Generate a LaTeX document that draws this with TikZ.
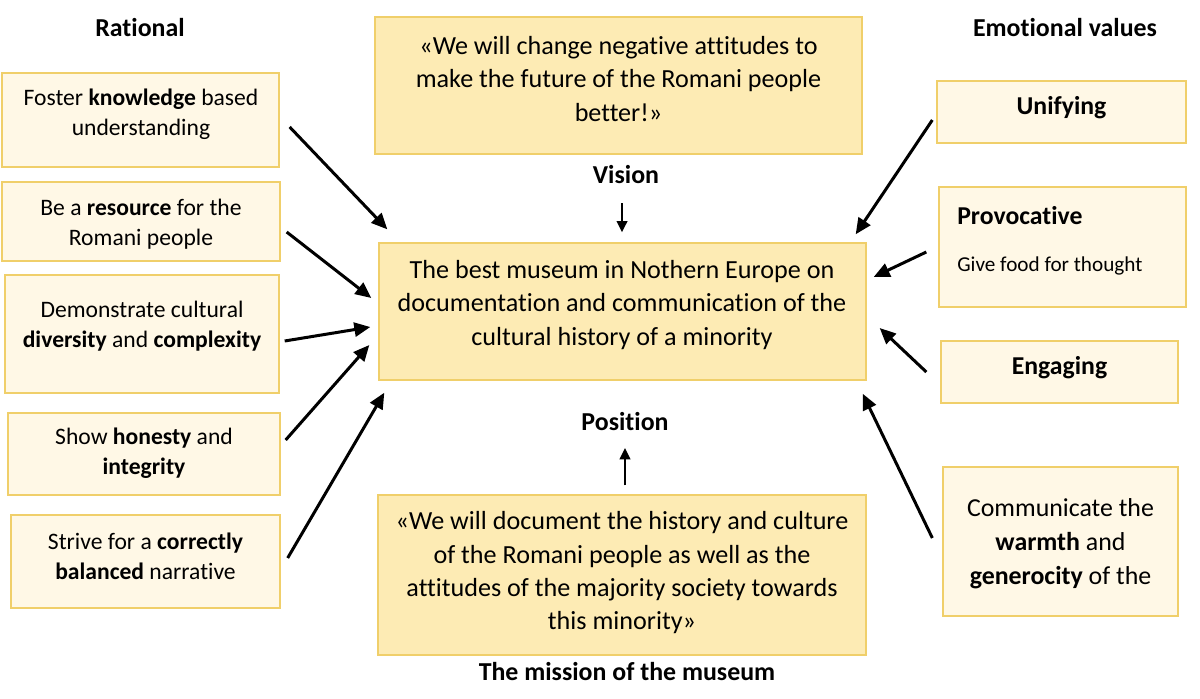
\documentclass[tikz,border=0pt]{standalone}
\usepackage{fontspec}
\setmainfont{Carlito}[Ligatures=NoCommon]
\usetikzlibrary{arrows.meta,fit}
\definecolor{boxline}{HTML}{F0CF6A}
\definecolor{mainfill}{HTML}{FDEBB4}
\definecolor{sidefill}{HTML}{FFF8E6}
\tikzset{
 mainbox/.style={draw=boxline, line width=1pt, fill=mainfill, inner sep=0pt},
 sidebox/.style={draw=boxline, line width=1pt, fill=sidefill, inner sep=0pt},
 maintext/.style={align=center, font=\fontsize{19.6}{25}\selectfont, inner sep=0pt},
 sidetext/.style={align=center, font=\fontsize{17.7}{22.5}\selectfont, inner sep=0pt},
 sidelargetext/.style={align=center, font=\fontsize{19.4}{25.5}\selectfont, inner sep=0pt},
 sideboldtext/.style={font=\bfseries\fontsize{19.3}{23}\selectfont, inner sep=0pt},
 smalltext/.style={font=\fontsize{15.9}{19}\selectfont, inner sep=0pt},
 heading/.style={font=\bfseries\fontsize{19.4}{23}\selectfont, inner sep=0pt},
 bigarrow/.style={line width=2.25pt, -{Triangle[length=12pt,width=10.5pt]}},
 smallarrow/.style={line width=1.5pt, -{Triangle[length=8.5pt,width=8pt]}},
}
\begin{document}
\begin{tikzpicture}[x=0.75pt,y=-0.75pt]
\useasboundingbox (0,0) rectangle (1200,699);
% headings
\node[heading] (rational) at (140,28) {Rational};
\node[heading] (emotional) at (1065,28) {Emotional values};
\node[heading] (vislbl) at (626,175) {Vision};
\node[heading] (poslbl) at (625,422) {Position};
\node[heading] (mislbl) at (627,672) {The mission of the museum};
% central boxes
\node[mainbox, fit={(375,17)(862,154)}] (vision) {};
\node[maintext] (visiontxt) at (618.5,79) {«We will change negative attitudes to\\make the future of the Romani people\\better!»};
\node[mainbox, fit={(379,243)(866,380)}] (center) {};
\node[maintext] (centertxt) at (622,305) {The best museum in Nothern Europe on\\documentation and communication of the\\cultural history of a minority};
\node[mainbox, fit={(378,495)(866,655)}] (mission) {};
\node[maintext] (missiontxt) at (622,573) {«We will document the history and culture\\of the Romani people as well as the\\attitudes of the majority society towards\\this minority»};
% left boxes
\node[sidebox, fit={(2,73)(279,167)}] (foster) {};
\node[sidetext] (fostertxt) at (141,114.5) {Foster \textbf{knowledge} based\\understanding};
\node[sidebox, fit={(2,182)(280,261)}] (resource) {};
\node[sidetext] (resourcetxt) at (141,224) {Be a \textbf{resource} for the\\Romani people};
\node[sidebox, fit={(5,275)(279,393)}] (diversity) {};
\node[sidetext] (diversitytxt) at (142,326.5) {Demonstrate cultural\\\textbf{diversity} and \textbf{complexity}};
\node[sidebox, fit={(8,413)(280,495)}] (honesty) {};
\node[sidetext] (honestytxt) at (144,453.5) {Show \textbf{honesty} and\\\textbf{integrity}};
\node[sidebox, fit={(11,515)(280,608)}] (strive) {};
\node[sidetext] (strivetxt) at (145.5,556.5) {Strive for a \textbf{correctly}\\\textbf{balanced} narrative};
% right boxes
\node[sidebox, fit={(937,81)(1186,143)}] (unify) {};
\node[sideboldtext] (unifytxt) at (1061.5,108) {Unifying};
\node[sidebox, fit={(939,187)(1186,307)}] (provoc) {};
\node[sideboldtext, anchor=west] (provoctxt) at (957,216) {Provocative};
\node[smalltext, anchor=west] (foodtxt) at (957,266) {Give food for thought};
\node[sidebox, fit={(941,341)(1178,403)}] (engage) {};
\node[sideboldtext] (engagetxt) at (1059.5,368) {Engaging};
\node[sidebox, fit={(943,467)(1178,616)}] (warmth) {};
\node[sidelargetext] (warmthtxt) at (1060.5,544) {Communicate the\\\textbf{warmth} and\\\textbf{generocity} of the};
% arrows left
\draw[bigarrow] ([shift={(10,7)}]foster.east) -- ([shift={(9,-13)}]center.north west);
\draw[bigarrow] ([shift={(6,10.5)}]resource.east) -- ([shift={(-7,-13.5)}]center.west);
\draw[bigarrow] ([shift={(5,7)}]diversity.east) -- ([shift={(-8,15.5)}]center.west);
\draw[bigarrow] ([shift={(5,-14)}]honesty.east) -- ([shift={(-9,33.5)}]center.west);
\draw[bigarrow] ([shift={(7,-3.5)}]strive.east) -- ([shift={(6,12)}]center.south west);
% arrows right
\draw[bigarrow] ([shift={(-4,8)}]unify.west) -- ([shift={(-11,-8)}]center.north east);
\draw[bigarrow] ([shift={(-12,5)}]provoc.west) -- ([shift={(7,-34.5)}]center.east);
\draw[bigarrow] ([shift={(-14,0)}]engage.west) -- ([shift={(13,16.5)}]center.east);
\draw[bigarrow] ([shift={(-10,-3.5)}]warmth.west) -- ([shift={(-4,13)}]center.south east);
% vertical arrows
\draw[smallarrow] ([shift={(-4,28)}]vislbl.center) -- ([shift={(-0.5,-10)}]center.north);
\draw[smallarrow] ([shift={(3,-9)}]mission.north) -- ([shift={(0,26)}]poslbl.center);
\end{tikzpicture}
\end{document}
